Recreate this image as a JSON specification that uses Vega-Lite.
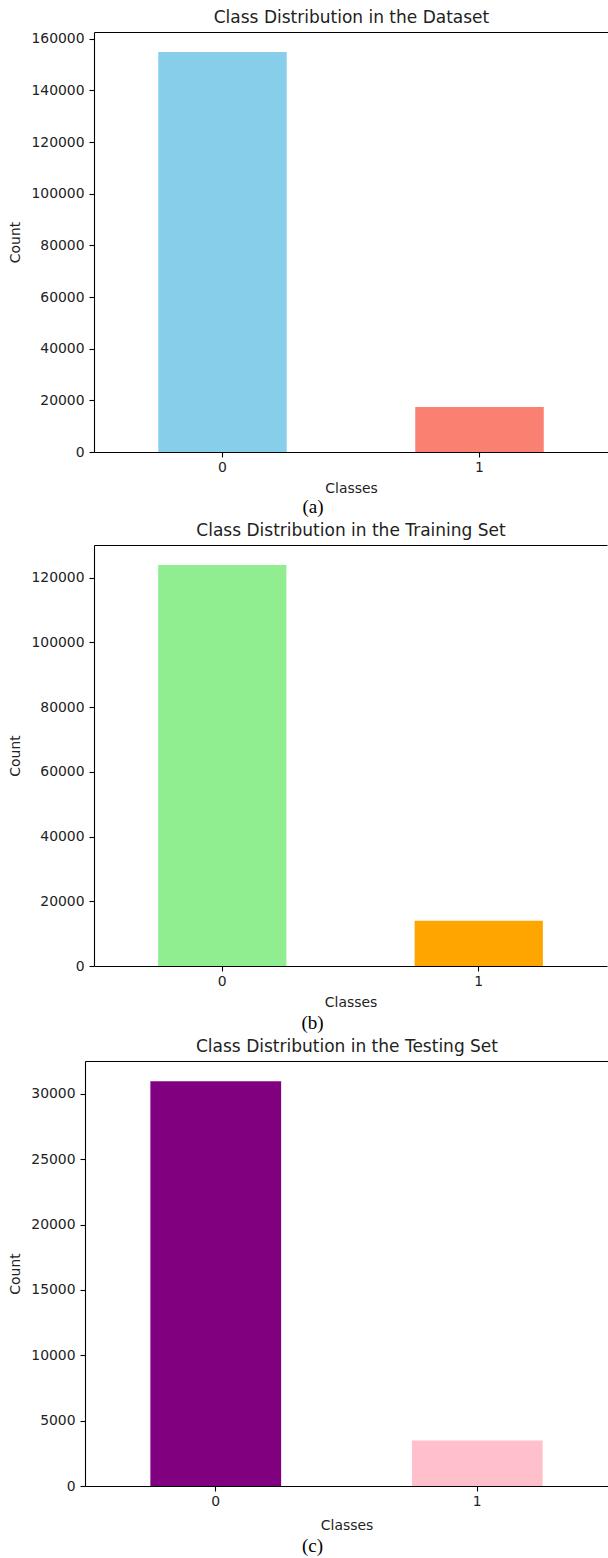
{
  "$schema": "https://vega.github.io/schema/vega-lite/v6.json",
  "padding": {"left": 7, "top": 8, "right": 0, "bottom": 0},
  "background": "white",
  "config": {
    "view": {"stroke": null},
    "font": "DejaVu Sans",
    "axis": {
      "grid": false,
      "domainColor": "black",
      "domainWidth": 1.1,
      "tickColor": "black",
      "tickWidth": 1.1,
      "tickSize": 5,
      "labelFont": "DejaVu Sans",
      "labelFontSize": 13.9,
      "labelColor": "#222222",
      "titleFont": "DejaVu Sans",
      "titleFontSize": 13.9,
      "titleFontWeight": "normal",
      "titleColor": "#222222"
    },
    "axisY": {"labelPadding": 5, "titlePadding": 8},
    "axisX": {"labelPadding": 3, "titlePadding": 8, "labelAngle": 0},
    "title": {"font": "Liberation Serif", "fontSize": 19, "fontWeight": "normal", "color": "black"}
  },
  "datasets": {
    "counts": [
      {"panel": "a", "cls": "0", "count": 154850},
      {"panel": "a", "cls": "1", "count": 17450},
      {"panel": "b", "cls": "0", "count": 123880},
      {"panel": "b", "cls": "1", "count": 13960},
      {"panel": "c", "cls": "0", "count": 30970},
      {"panel": "c", "cls": "1", "count": 3490}
    ],
    "empty": []
  },
  "spacing": 4,
  "resolve": {"scale": {"color": "independent"}},
  "vconcat": [
    {
      "spacing": 0,
      "resolve": {"scale": {"color": "independent"}},
      "hconcat": [
        {"width": 1, "height": 1, "data": {"name": "empty"}, "mark": {"type": "point"}, "encoding": {}},
        {
          "title": {"text": "(a)", "orient": "bottom", "anchor": "middle", "frame": "group", "dx": -38, "offset": 2},
          "width": 514,
          "height": 420,
          "data": {"name": "counts"},
          "transform": [{"filter": "datum.panel === 'a'"}],
          "layer": [
            {
              "mark": {"type": "bar"},
              "encoding": {
                "x": {"field": "cls", "type": "nominal", "scale": {"paddingInner": 0.5, "paddingOuter": 0.25}, "axis": {"orient": "bottom", "title": "Classes"}},
                "y": {"field": "count", "type": "quantitative", "scale": {"domain": [0, 162593], "nice": false}, "axis": {"title": "Count", "values": [0, 20000, 40000, 60000, 80000, 100000, 120000, 140000, 160000], "format": "d"}},
                "color": {"field": "cls", "type": "nominal", "scale": {"domain": ["0", "1"], "range": ["#87CEEB", "#FA8072"]}, "legend": null}
              }
            },
            {
              "mark": {"type": "bar", "opacity": 0},
              "encoding": {
                "x": {"field": "cls", "type": "nominal", "axis": {"orient": "top", "title": "Class Distribution in the Dataset", "labels": false, "ticks": false, "titleFontSize": 17, "titlePadding": 6}}
              }
            }
          ],
          "resolve": {"axis": {"x": "independent"}}
        }
      ]
    },
    {
      "spacing": 0,
      "resolve": {"scale": {"color": "independent"}},
      "hconcat": [
        {"width": 1, "height": 1, "data": {"name": "empty"}, "mark": {"type": "point"}, "encoding": {}},
        {
          "title": {"text": "(b)", "orient": "bottom", "anchor": "middle", "frame": "group", "dx": -38, "offset": 4},
          "width": 513,
          "height": 421,
          "data": {"name": "counts"},
          "transform": [{"filter": "datum.panel === 'b'"}],
          "layer": [
            {
              "mark": {"type": "bar"},
              "encoding": {
                "x": {"field": "cls", "type": "nominal", "scale": {"paddingInner": 0.5, "paddingOuter": 0.25}, "axis": {"orient": "bottom", "title": "Classes"}},
                "y": {"field": "count", "type": "quantitative", "scale": {"domain": [0, 130074], "nice": false}, "axis": {"title": "Count", "values": [0, 20000, 40000, 60000, 80000, 100000, 120000], "format": "d"}},
                "color": {"field": "cls", "type": "nominal", "scale": {"domain": ["0", "1"], "range": ["#90EE90", "#FFA500"]}, "legend": null}
              }
            },
            {
              "mark": {"type": "bar", "opacity": 0},
              "encoding": {
                "x": {"field": "cls", "type": "nominal", "axis": {"orient": "top", "title": "Class Distribution in the Training Set", "labels": false, "ticks": false, "titleFontSize": 17, "titlePadding": 6}}
              }
            }
          ],
          "resolve": {"axis": {"x": "independent"}}
        }
      ]
    },
    {
      "spacing": 0,
      "resolve": {"scale": {"color": "independent"}},
      "hconcat": [
        {"width": 1, "height": 1, "data": {"name": "empty"}, "mark": {"type": "point"}, "encoding": {}},
        {
          "title": {"text": "(c)", "orient": "bottom", "anchor": "middle", "frame": "group", "dx": -34, "offset": 4},
          "width": 523,
          "height": 425,
          "data": {"name": "counts"},
          "transform": [{"filter": "datum.panel === 'c'"}],
          "layer": [
            {
              "mark": {"type": "bar"},
              "encoding": {
                "x": {"field": "cls", "type": "nominal", "scale": {"paddingInner": 0.5, "paddingOuter": 0.25}, "axis": {"orient": "bottom", "title": "Classes", "titlePadding": 11}},
                "y": {"field": "count", "type": "quantitative", "scale": {"domain": [0, 32519], "nice": false}, "axis": {"title": "Count", "values": [0, 5000, 10000, 15000, 20000, 25000, 30000], "format": "d"}},
                "color": {"field": "cls", "type": "nominal", "scale": {"domain": ["0", "1"], "range": ["#800080", "#FFC0CB"]}, "legend": null}
              }
            },
            {
              "mark": {"type": "bar", "opacity": 0},
              "encoding": {
                "x": {"field": "cls", "type": "nominal", "axis": {"orient": "top", "title": "Class Distribution in the Testing Set", "labels": false, "ticks": false, "titleFontSize": 17, "titlePadding": 6}}
              }
            }
          ],
          "resolve": {"axis": {"x": "independent"}}
        }
      ]
    }
  ]
}
